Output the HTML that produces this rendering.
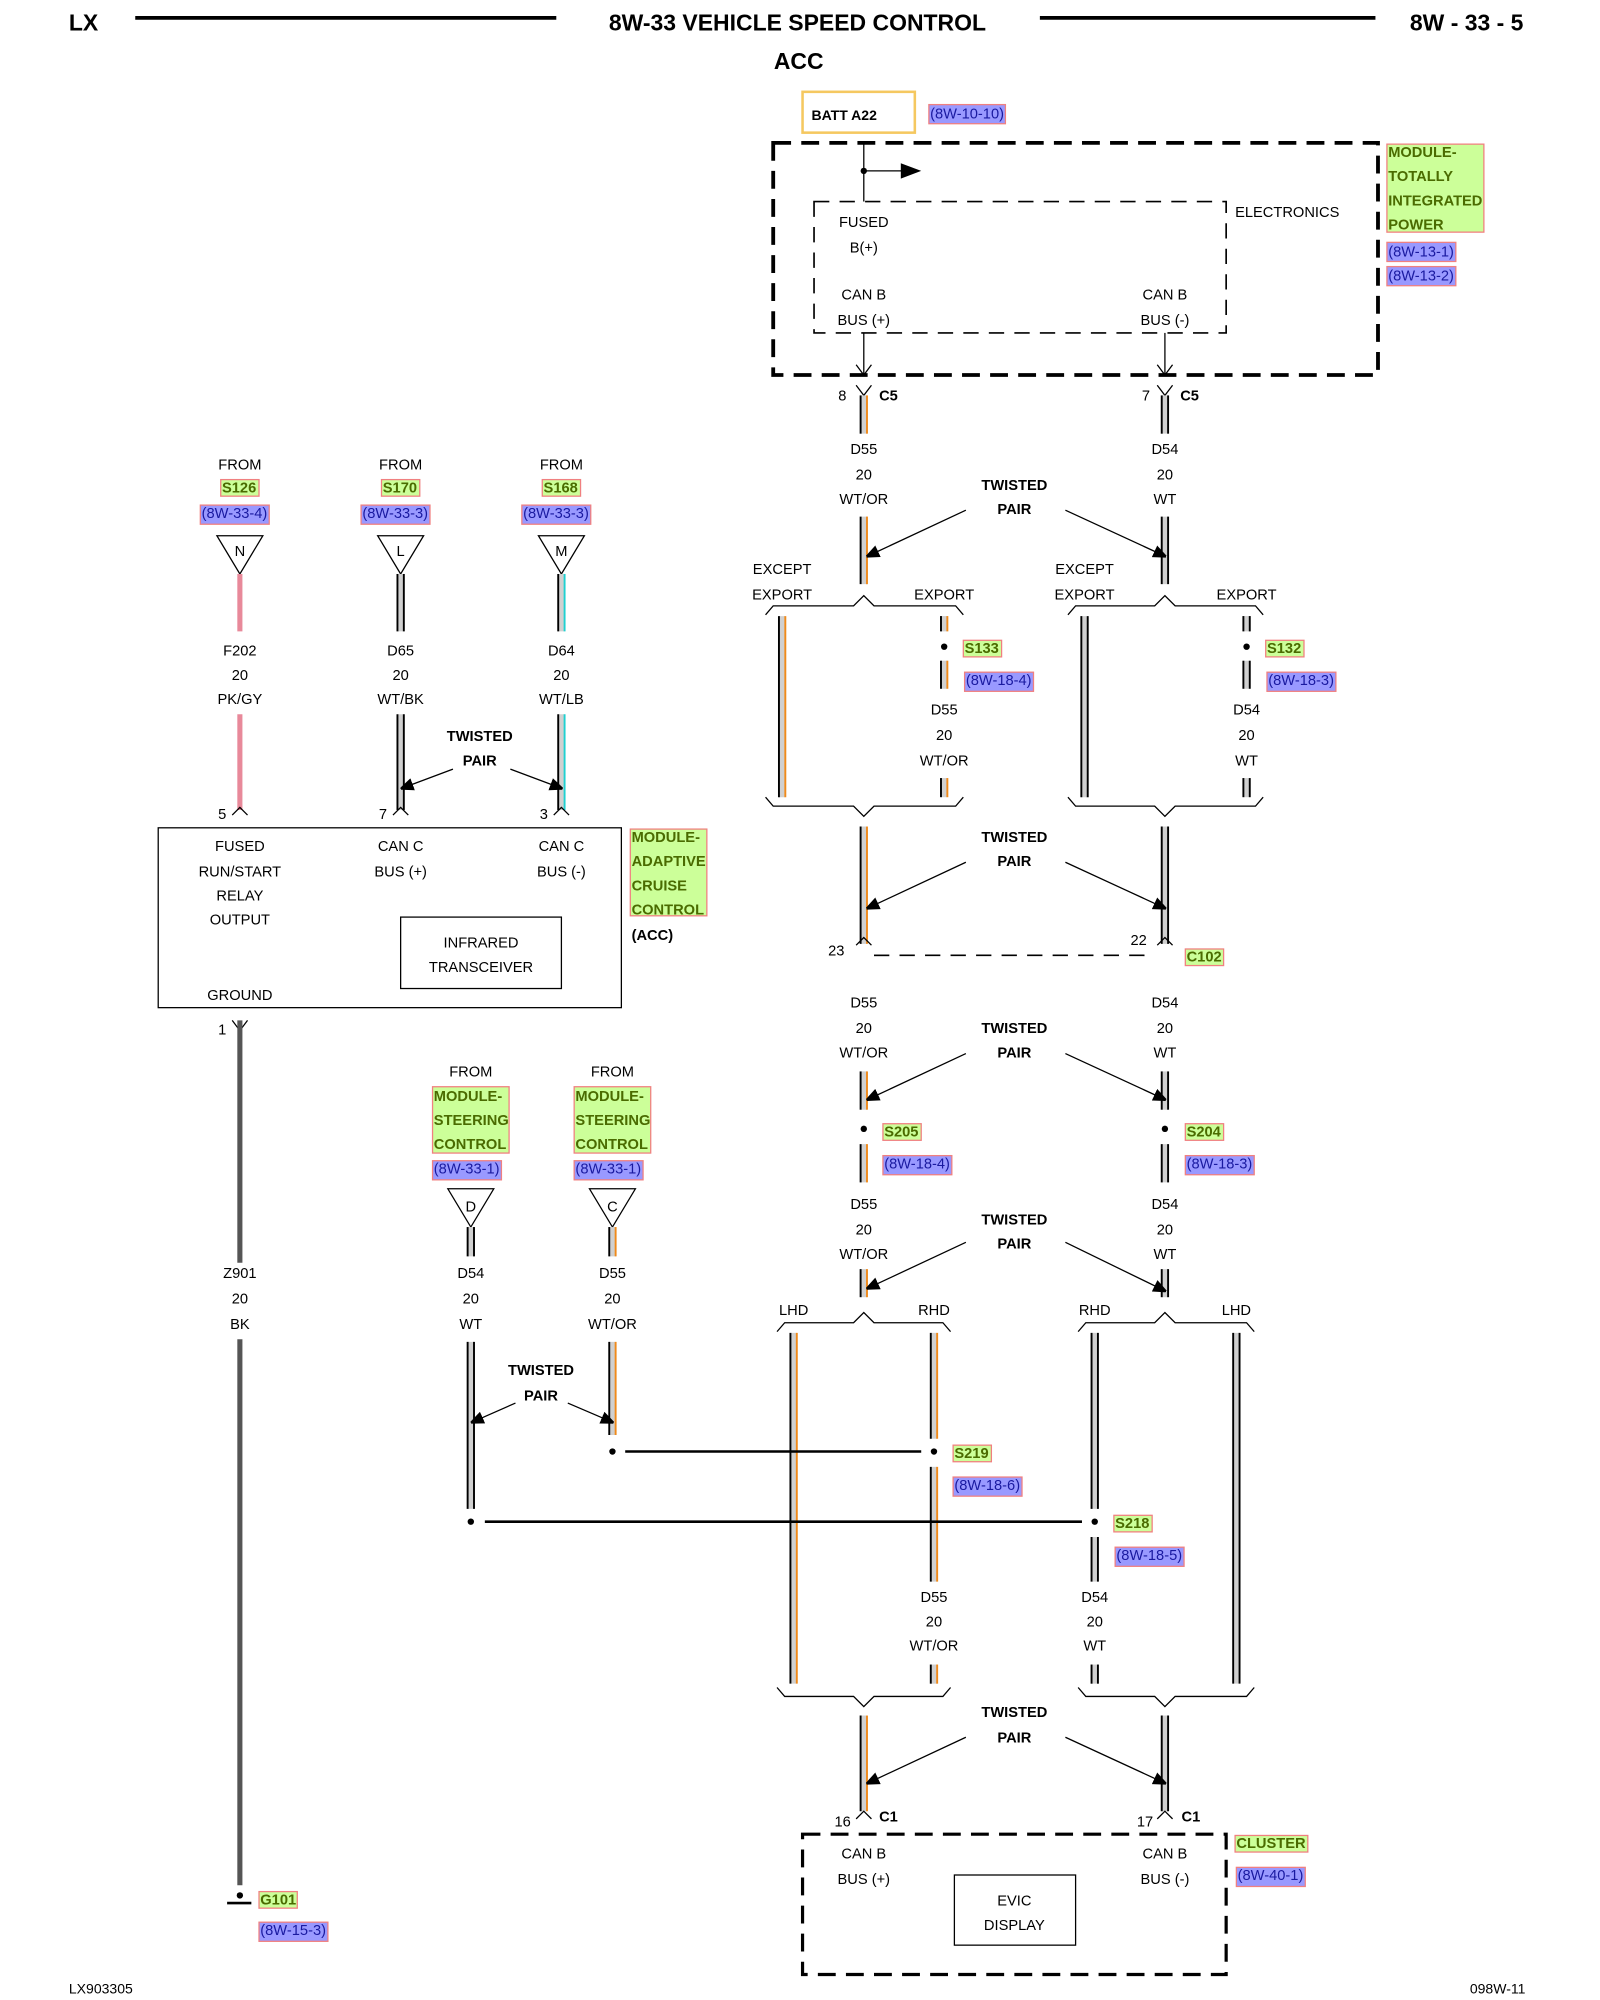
<!DOCTYPE html>
<html><head><meta charset="utf-8"><style>
html,body{margin:0;padding:0;background:#fff;}
svg{display:block}
text{font-family:"Liberation Sans",sans-serif;font-size:11.5px;fill:#000;text-anchor:middle}
.l{text-anchor:start}
.b{font-weight:bold}
.h{font-size:18px;font-weight:bold}
.g{fill:#4a6b00;font-weight:bold;text-anchor:start}
.r{fill:#1a1aa0;text-anchor:start}
</style></head><body>
<svg id="s" width="1600" height="2000" viewBox="0 0 1254 1568" preserveAspectRatio="none" xmlns="http://www.w3.org/2000/svg">
<defs><marker id="ah" markerWidth="10" markerHeight="10" refX="9" refY="5" orient="auto" markerUnits="userSpaceOnUse"><path d="M0,0 L12,5 L0,10 z" fill="#000"/></marker></defs>
<g id="geo"></g>
<text class="h l" x="54" y="24">LX</text>
<line x1="106" y1="14" x2="436" y2="14" stroke="#000" stroke-width="3"/>
<text class="h" x="625" y="24">8W-33 VEHICLE SPEED CONTROL</text>
<line x1="815" y1="14" x2="1078" y2="14" stroke="#000" stroke-width="3"/>
<text class="h l" x="1105" y="24">8W - 33 - 5</text>
<text class="h" x="626" y="54">ACC</text>
<rect x="629" y="72" width="88" height="32" fill="none" stroke="#f5c860" stroke-width="2"/>
<text class="b l" x="636" y="94" style="font-size:11px">BATT A22</text>
<text x="677" y="178">FUSED</text><text x="677" y="198">B(+)</text>
<text x="677" y="235">CAN B</text><text x="677" y="255">BUS (+)</text>
<text x="913" y="235">CAN B</text><text x="913" y="255">BUS (-)</text>
<text class="l" x="968" y="170">ELECTRONICS</text>
<text class="l" x="657" y="314">8</text><text class="b l" x="689" y="314">C5</text>
<text class="l" x="895" y="314">7</text><text class="b l" x="925" y="314">C5</text>
<text x="677" y="356">D55</text><text x="677" y="376">20</text><text x="677" y="395">WT/OR</text>
<text x="913" y="356">D54</text><text x="913" y="376">20</text><text x="913" y="395">WT</text>
<text class="b" x="795" y="384">TWISTED</text><text class="b" x="795" y="403">PAIR</text>
<text x="613" y="450">EXCEPT</text><text x="613" y="470">EXPORT</text><text x="740" y="470">EXPORT</text>
<text x="850" y="450">EXCEPT</text><text x="850" y="470">EXPORT</text><text x="977" y="470">EXPORT</text>
<text x="740" y="560">D55</text><text x="740" y="580">20</text><text x="740" y="600">WT/OR</text>
<text x="977" y="560">D54</text><text x="977" y="580">20</text><text x="977" y="600">WT</text>
<text class="b" x="795" y="660">TWISTED</text><text class="b" x="795" y="679">PAIR</text>
<text class="l" x="649" y="749">23</text><text class="l" x="886" y="741">22</text>
<text x="677" y="790">D55</text><text x="677" y="810">20</text><text x="677" y="829">WT/OR</text>
<text x="913" y="790">D54</text><text x="913" y="810">20</text><text x="913" y="829">WT</text>
<text class="b" x="795" y="810">TWISTED</text><text class="b" x="795" y="829">PAIR</text>
<text x="677" y="948">D55</text><text x="677" y="968">20</text><text x="677" y="987">WT/OR</text>
<text x="913" y="948">D54</text><text x="913" y="968">20</text><text x="913" y="987">WT</text>
<text class="b" x="795" y="960">TWISTED</text><text class="b" x="795" y="979">PAIR</text>
<text x="622" y="1031">LHD</text><text x="732" y="1031">RHD</text>
<text x="858" y="1031">RHD</text><text x="969" y="1031">LHD</text>
<text x="732" y="1256">D55</text><text x="732" y="1275">20</text><text x="732" y="1294">WT/OR</text>
<text x="858" y="1256">D54</text><text x="858" y="1275">20</text><text x="858" y="1294">WT</text>
<text class="b" x="795" y="1346">TWISTED</text><text class="b" x="795" y="1366">PAIR</text>
<text class="l" x="654" y="1432">16</text><text class="b l" x="689" y="1428">C1</text>
<text class="l" x="891" y="1432">17</text><text class="b l" x="926" y="1428">C1</text>
<text x="677" y="1457">CAN B</text><text x="677" y="1477">BUS (+)</text>
<text x="913" y="1457">CAN B</text><text x="913" y="1477">BUS (-)</text>
<text x="795" y="1494">EVIC</text><text x="795" y="1513">DISPLAY</text>
<text x="188" y="368">FROM</text><text x="314" y="368">FROM</text><text x="440" y="368">FROM</text>
<text x="188" y="436">N</text><text x="314" y="436">L</text><text x="440" y="436">M</text>
<text x="188" y="514">F202</text><text x="188" y="533">20</text><text x="188" y="552">PK/GY</text>
<text x="314" y="514">D65</text><text x="314" y="533">20</text><text x="314" y="552">WT/BK</text>
<text x="440" y="514">D64</text><text x="440" y="533">20</text><text x="440" y="552">WT/LB</text>
<text class="b" x="376" y="581">TWISTED</text><text class="b" x="376" y="600">PAIR</text>
<text class="l" x="171" y="642">5</text><text class="l" x="297" y="642">7</text><text class="l" x="423" y="642">3</text>
<text x="188" y="667">FUSED</text><text x="188" y="687">RUN/START</text><text x="188" y="706">RELAY</text><text x="188" y="725">OUTPUT</text>
<text x="314" y="667">CAN C</text><text x="314" y="687">BUS (+)</text>
<text x="440" y="667">CAN C</text><text x="440" y="687">BUS (-)</text>
<text x="377" y="743">INFRARED</text><text x="377" y="762">TRANSCEIVER</text>
<text x="188" y="784">GROUND</text>
<text class="b l" x="495" y="737">(ACC)</text>
<text class="l" x="171" y="811">1</text>
<text x="369" y="844">FROM</text><text x="480" y="844">FROM</text>
<text x="369" y="950">D</text><text x="480" y="950">C</text>
<text x="369" y="1002">D54</text><text x="369" y="1022">20</text><text x="369" y="1042">WT</text>
<text x="480" y="1002">D55</text><text x="480" y="1022">20</text><text x="480" y="1042">WT/OR</text>
<text x="188" y="1002">Z901</text><text x="188" y="1022">20</text><text x="188" y="1042">BK</text>
<text class="b" x="424" y="1078">TWISTED</text><text class="b" x="424" y="1098">PAIR</text>
<text class="l" x="54" y="1563" style="font-size:11px">LX903305</text>
<text class="l" x="1152" y="1563" style="font-size:11px">098W-11</text>
<g id="lab"></g>
<text class="g" x="1088" y="123">MODULE-</text><text class="g" x="1088" y="142">TOTALLY</text><text class="g" x="1088" y="161">INTEGRATED</text><text class="g" x="1088" y="180">POWER</text>
<text class="g" x="495" y="660">MODULE-</text><text class="g" x="495" y="679">ADAPTIVE</text><text class="g" x="495" y="698">CRUISE</text><text class="g" x="495" y="717">CONTROL</text>
<text class="g" x="340" y="863">MODULE-</text><text class="g" x="340" y="882">STEERING</text><text class="g" x="340" y="901">CONTROL</text>
<text class="g" x="451" y="863">MODULE-</text><text class="g" x="451" y="882">STEERING</text><text class="g" x="451" y="901">CONTROL</text>
<text class="g" x="174" y="386">S126</text><text class="g" x="300" y="386">S170</text><text class="g" x="426" y="386">S168</text>
<text class="g" x="756" y="512">S133</text><text class="g" x="993" y="512">S132</text>
<text class="g" x="930" y="754">C102</text>
<text class="g" x="693" y="891">S205</text><text class="g" x="930" y="891">S204</text>
<text class="g" x="748" y="1143">S219</text><text class="g" x="874" y="1198">S218</text>
<text class="g" x="969" y="1449">CLUSTER</text><text class="g" x="204" y="1493">G101</text>
<text class="r" x="729" y="93">(8W-10-10)</text>
<text class="r" x="1088" y="201">(8W-13-1)</text><text class="r" x="1088" y="220">(8W-13-2)</text>
<text class="r" x="158" y="406">(8W-33-4)</text><text class="r" x="284" y="406">(8W-33-3)</text><text class="r" x="410" y="406">(8W-33-3)</text>
<text class="r" x="757" y="537">(8W-18-4)</text><text class="r" x="994" y="537">(8W-18-3)</text>
<text class="r" x="693" y="916">(8W-18-4)</text><text class="r" x="930" y="916">(8W-18-3)</text>
<text class="r" x="340" y="920">(8W-33-1)</text><text class="r" x="451" y="920">(8W-33-1)</text>
<text class="r" x="748" y="1168">(8W-18-6)</text><text class="r" x="875" y="1223">(8W-18-5)</text>
<text class="r" x="970" y="1474">(8W-40-1)</text><text class="r" x="204" y="1517">(8W-15-3)</text>
</svg>
<script>
var NS="http://www.w3.org/2000/svg",G=document.getElementById("geo"),L=document.getElementById("lab");
function el(t,a,p){var e=document.createElementNS(NS,t);for(var k in a)e.setAttribute(k,a[k]);(p||G).appendChild(e);return e;}
function ln(x1,y1,x2,y2,w,c,d){var a={x1:x1,y1:y1,x2:x2,y2:y2,stroke:c||"#000","stroke-width":w||1};if(d)a["stroke-dasharray"]=d;return el("line",a);}
function wire(x,y1,y2,c){ln(x,y1,x,y2,5,"#d0d0d0");ln(x-2.5,y1,x-2.5,y2,1.5,"#000");ln(x+2.5,y1,x+2.5,y2,1.5,c||"#000");}
function pk(x,y1,y2){ln(x,y1,x,y2,4,"#e8899a");}
function dot(x,y){el("circle",{cx:x,cy:y,r:2.5,fill:"#000"});}
function up(x,y){el("path",{d:"M"+(x-6)+","+(y+6)+" L"+x+","+y+" L"+(x+6)+","+(y+6),fill:"none",stroke:"#000"});}
function dn(x,y){el("path",{d:"M"+(x-6)+","+(y-8)+" L"+x+","+y+" L"+(x+6)+","+(y-8),fill:"none",stroke:"#000"});}
function braceT(x1,x2,xc,y){el("path",{d:"M"+x1+","+(y+7)+" L"+(x1+6)+","+y+" L"+(xc-8)+","+y+" L"+xc+","+(y-8)+" L"+(xc+8)+","+y+" L"+(x2-6)+","+y+" L"+x2+","+(y+7),fill:"none",stroke:"#000"});}
function braceB(x1,x2,xc,y){el("path",{d:"M"+x1+","+(y-7)+" L"+(x1+6)+","+y+" L"+(xc-8)+","+y+" L"+xc+","+(y+8)+" L"+(xc+8)+","+y+" L"+(x2-6)+","+y+" L"+x2+","+(y-7),fill:"none",stroke:"#000"});}
function arr(x1,y1,x2,y2){el("line",{x1:x1,y1:y1,x2:x2,y2:y2,stroke:"#000","stroke-width":1,"marker-end":"url(#ah)"});}
function tri(x,y){el("path",{d:"M"+(x-18)+","+y+" L"+(x+18)+","+y+" L"+x+","+(y+30)+" z",fill:"#fff",stroke:"#000"});}
function gl(x,y,w,h){el("rect",{x:x,y:y,width:w,height:h,fill:"#ccff99",stroke:"#f08080"},L);}
function bl(x,y,w){el("rect",{x:x,y:y,width:w,height:15,fill:"#9999ff",stroke:"#f08080"},L);}
var OR="#f08a1a";
el("rect",{x:606,y:112,width:474,height:182,fill:"none",stroke:"#000","stroke-width":3,"stroke-dasharray":"14 8"});
el("rect",{x:638,y:158,width:323,height:103,fill:"none",stroke:"#000","stroke-width":1.3,"stroke-dasharray":"12 8"});
ln(677,112,677,158);ln(677,134,708,134);el("path",{d:"M706,128 L722,134 L706,140 z"});dot(677,134);
ln(677,261,677,294);dn(677,294);ln(913,261,913,294);dn(913,294);
el("path",{d:"M671,302 L677,310 L683,302",fill:"none",stroke:"#000"});el("path",{d:"M907,302 L913,310 L919,302",fill:"none",stroke:"#000"});
wire(677,310,340,OR);wire(913,310,340);
wire(677,405,458,OR);wire(913,405,458);
arr(757,400,680,436);arr(835,400,913,436);
braceT(600,755,677,475);braceT(837,990,913,475);
wire(613,483,625,OR);wire(740,483,495,OR);dot(740,507);wire(740,518,540,OR);wire(740,610,625,OR);
wire(850,483,625);wire(977,483,495);dot(977,507);wire(977,518,540);wire(977,610,625);
braceB(600,755,677,632);braceB(837,990,913,632);
wire(677,648,740,OR);wire(913,648,740);
arr(757,676,680,712);arr(835,676,913,712);
up(677,735);up(913,735);ln(685,749,905,749,1.3,"#000","12 8");
wire(677,840,870,OR);wire(913,840,870);arr(757,826,680,862);arr(835,826,913,862);
dot(677,885);dot(913,885);wire(677,897,927,OR);wire(913,897,927);
wire(677,995,1017,OR);wire(913,995,1017);arr(757,974,680,1010);arr(835,974,913,1012);
braceT(609,745,677,1037);braceT(845,983,913,1037);
wire(622,1045,1320,OR);wire(732,1045,1128,OR);dot(732,1138);wire(732,1150,1240,OR);wire(732,1305,1320,OR);
wire(858,1045,1183,"#000");dot(858,1193);wire(858,1205,1240);wire(858,1305,1320);wire(969,1045,1320);
braceB(609,745,677,1330);braceB(845,983,913,1330);
wire(677,1345,1420,OR);wire(913,1345,1420);arr(757,1362,680,1398);arr(835,1362,913,1398);
up(677,1420);up(913,1420);
el("rect",{x:629,y:1438,width:332,height:110,fill:"none",stroke:"#000","stroke-width":2.5,"stroke-dasharray":"14 8"});
el("rect",{x:748,y:1470,width:95,height:55,fill:"none",stroke:"#000"});
tri(188,420);tri(314,420);tri(440,420);
pk(188,450,495);wire(314,450,495);wire(440,450,495,"#20d0d0");
pk(188,560,635);wire(314,560,635);wire(440,560,635,"#20d0d0");
arr(355,603,315,618);arr(400,603,440,618);
up(188,633);up(314,633);up(440,633);
el("rect",{x:124,y:649,width:363,height:141,fill:"none",stroke:"#000"});
el("rect",{x:314,y:719,width:126,height:56,fill:"none",stroke:"#000"});
dn(188,808);ln(188,800,188,990,4,"#555");ln(188,1050,188,1478,4,"#555");ln(178,1492,197,1492,2);dot(188,1486);
tri(369,932);tri(480,932);wire(369,962,985);wire(480,962,985,OR);
wire(369,1052,1183);wire(480,1052,1125,OR);arr(404,1100,370,1115);arr(445,1100,480,1115);
dot(480,1138);ln(490,1138,722,1138,2);dot(369,1193);ln(380,1193,848,1193,2);
gl(1087,113,76,69);gl(494,650,60,68);gl(339,852,60,52);gl(450,852,60,52);
gl(173,376,30,13);gl(299,376,30,13);gl(425,376,30,13);gl(755,502,30,13);gl(992,502,30,13);gl(929,744,30,13);
gl(692,881,30,13);gl(929,881,30,13);gl(747,1133,30,13);gl(873,1188,30,13);gl(968,1439,57,13);gl(203,1483,30,13);
bl(728,82,60);bl(1087,190,54);bl(1087,209,54);bl(157,396,54);bl(283,396,54);bl(409,396,54);bl(756,527,54);bl(993,527,54);
bl(692,906,54);bl(929,906,54);bl(339,910,54);bl(450,910,54);bl(747,1158,54);bl(874,1213,54);bl(969,1464,54);bl(203,1507,54);
</script>
</body></html>
